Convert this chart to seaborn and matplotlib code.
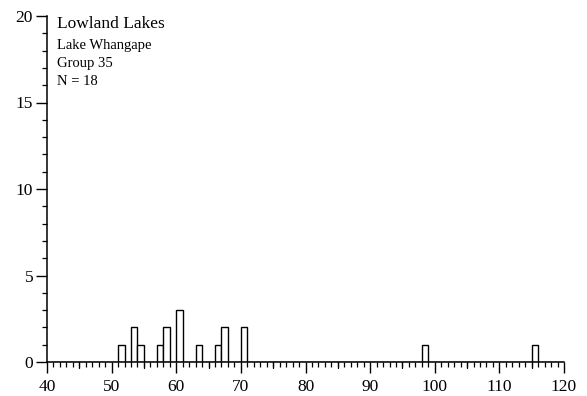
import numpy as np
import pandas as pd
import matplotlib
matplotlib.use("Agg")
import matplotlib.pyplot as plt
from matplotlib.ticker import MultipleLocator
import seaborn as sns

# Length classes (left edge of each 1-unit bin) and number of fish in each
bin_starts = [51, 53, 54, 57, 58, 60, 63, 66, 67, 70, 98, 115]
counts = [1, 2, 1, 1, 2, 3, 1, 1, 2, 2, 1, 1]

title_lines = ["Lowland Lakes", "Lake Whangape", "Group 35", "N = 18"]
x_ticks = [40, 50, 60, 70, 80, 90, 100, 110, 120]
y_ticks = [0, 5, 10, 15, 20]

sns.set_style("ticks")
plt.rcParams["font.family"] = ["Liberation Serif", "DejaVu Serif"]

df = pd.DataFrame({"length": bin_starts, "n": counts})

fig = plt.figure(figsize=(5.87, 3.96), dpi=100)
ax = fig.add_axes([47 / 587, 1 - 362 / 396, 517 / 587, 346 / 396])

sns.histplot(data=df, x="length", weights="n", binwidth=1, binrange=(40, 120),
             color="white", edgecolor="black", linewidth=1.0, alpha=1.0, ax=ax)

ax.set_xlim(40, 120)
ax.set_ylim(0, 20)
ax.set_xticks(x_ticks)
ax.set_yticks(y_ticks)
ax.xaxis.set_minor_locator(MultipleLocator(1))
ax.yaxis.set_minor_locator(MultipleLocator(1))
ax.tick_params(axis="both", which="major", length=8, width=1.0, labelsize=12.5,
               color="black", labelcolor="black", direction="out")
ax.tick_params(axis="x", which="major", pad=4)
ax.tick_params(axis="y", which="major", pad=2)
ax.tick_params(axis="both", which="minor", length=3.5, width=0.9, color="black",
               direction="out")
ax.set_xlabel("")
ax.set_ylabel("")
for side in ("top", "right"):
    ax.spines[side].set_visible(False)
for side in ("left", "bottom"):
    ax.spines[side].set_linewidth(1.1)
    ax.spines[side].set_color("black")

# Half-way ticks at every 5 units on the x axis
for v in range(45, 120, 10):
    ax.plot([v, v], [0, -0.33], color="black", lw=0.9, clip_on=False)

sizes = [12.5, 10.5, 10.5, 10.5]
ys = [0.976, 0.914, 0.862, 0.810]
for text, s, y in zip(title_lines, sizes, ys):
    ax.text(0.019, y, text, transform=ax.transAxes, fontsize=s,
            va="center", ha="left", color="black")

fig.savefig("out.png", dpi=100)
